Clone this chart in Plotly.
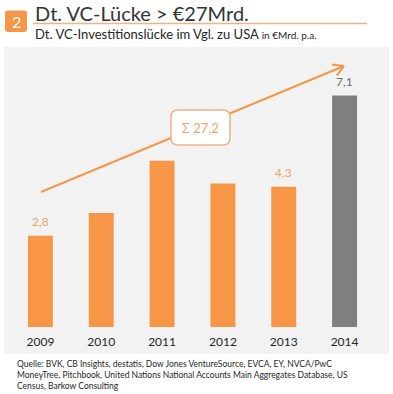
import math
import plotly.graph_objects as go

years = ["2009", "2010", "2011", "2012", "2013", "2014"]
values = [2.8, 3.5, 5.1, 4.4, 4.3, 7.1]
bar_colors = ["#F79646", "#F79646", "#F79646", "#F79646", "#F79646", "#7F7F7F"]
labels = ["2,8", "", "", "", "4,3", "7,1"]
label_colors = ["#F4A468", "", "", "", "#F4A468", "#6E6E6E"]
sum_text = "Σ 27,2"

W, H = 393, 394
ML, MR, MT, MB = 10, 18, 50, 67
YMAX = 8.5
FONT = "Lato"
ORANGE = "#F79646"

pw = W - ML - MR
ph = H - MT - MB
def px_to_x(px):
    return (px - ML) / pw * 6 - 0.5
def px_to_y(py):
    return (H - MB - py) / ph * YMAX
def px_to_paper(px, py):
    return (px - ML) / pw, (H - MB - py) / ph

def rounded_path(conv, a0, b0, a1, b1, r):
    def P(a, b):
        u, v = conv(a, b)
        return f"{u:.5f},{v:.5f}"
    return (f"M {P(a0+r, b0)} L {P(a1-r, b0)} Q {P(a1, b0)} {P(a1, b0+r)} "
            f"L {P(a1, b1-r)} Q {P(a1, b1)} {P(a1-r, b1)} L {P(a0+r, b1)} "
            f"Q {P(a0, b1)} {P(a0, b1-r)} L {P(a0, b0+r)} Q {P(a0, b0)} {P(a0+r, b0)} Z")

fig = go.Figure()
fig.add_trace(go.Bar(x=list(range(len(years))), y=values,
                     marker=dict(color=bar_colors, line=dict(width=0)),
                     width=0.41, hoverinfo="skip"))

shapes = []
x0, y0 = px_to_paper(4, 354)
x1, y1 = px_to_paper(389, 47)
shapes.append(dict(type="rect", xref="paper", yref="paper", x0=x0, y0=y0, x1=x1, y1=y1,
                   fillcolor="#F2F2F2", line=dict(width=0), layer="below"))
ux0, uy = px_to_paper(33, 23.5)
ux1, _ = px_to_paper(367, 23.5)
shapes.append(dict(type="line", xref="paper", yref="paper", x0=ux0, y0=uy, x1=ux1, y1=uy,
                   line=dict(color="#F4B183", width=1.5)))
shapes.append(dict(type="path", xref="paper", yref="paper",
                   path=rounded_path(px_to_paper, 5, 10.5, 27, 32, 3),
                   fillcolor=ORANGE, line=dict(width=0)))

sx, sy, ex, ey = 41, 192, 344, 66
shapes.append(dict(type="line", xref="x", yref="y", x0=px_to_x(sx), y0=px_to_y(sy),
                   x1=px_to_x(ex), y1=px_to_y(ey), line=dict(color=ORANGE, width=2)))
ang = math.atan2(ey - sy, ex - sx)
for d in (math.radians(150), math.radians(-150)):
    hx = ex + 12 * math.cos(ang + d)
    hy = ey + 12 * math.sin(ang + d)
    shapes.append(dict(type="line", xref="x", yref="y", x0=px_to_x(ex), y0=px_to_y(ey),
                       x1=px_to_x(hx), y1=px_to_y(hy), line=dict(color=ORANGE, width=2)))

rx0, ry0, rx1, ry1 = 171, 110, 230, 145
shapes.append(dict(type="path", xref="x", yref="y",
                   path=rounded_path(lambda a, b: (px_to_x(a), px_to_y(b)), rx0, ry0, rx1, ry1, 7),
                   fillcolor="white", line=dict(color="#F4B183", width=1.5)))

annotations = []
for i, (v, t, c) in enumerate(zip(values, labels, label_colors)):
    if t:
        annotations.append(dict(x=i, y=v, xref="x", yref="y", text=t, showarrow=False,
                                yanchor="bottom", yshift=5,
                                font=dict(family=FONT, size=12, color=c)))
annotations.append(dict(x=px_to_x((rx0 + rx1) / 2), y=px_to_y((ry0 + ry1) / 2), text=sum_text,
                        showarrow=False, font=dict(family=FONT, size=13, color="#F4A468")))
bcx, bcy = px_to_paper(16, 21.5)
annotations.append(dict(xref="paper", yref="paper", x=bcx, y=bcy, text="2", showarrow=False,
                        xanchor="center", yanchor="middle",
                        font=dict(family=FONT, size=16, color="white")))
tx, ty = px_to_paper(33, 13)
annotations.append(dict(xref="paper", yref="paper", x=tx, y=ty, xanchor="left", yanchor="middle",
                        text="Dt. VC-Lücke > €27Mrd.", showarrow=False,
                        font=dict(family=FONT, size=20, color="#333333")))
sx2, sy2 = px_to_paper(33, 33.5)
annotations.append(dict(xref="paper", yref="paper", x=sx2, y=sy2, xanchor="left", yanchor="middle",
                        text="Dt. VC-Investitionslücke im Vgl. zu USA <span style='font-size:10px'>in €Mrd. p.a.</span>",
                        showarrow=False, font=dict(family=FONT, size=13, color="#262626")))
qx, qy = px_to_paper(15, 357)
annotations.append(dict(xref="paper", yref="paper", x=qx, y=qy, xanchor="left", yanchor="top", align="left",
                        text=("Quelle: BVK, CB Insights, destatis, Dow Jones VentureSource, EVCA, EY, NVCA/PwC<br>"
                              "MoneyTree, Pitchbook, United Nations National Accounts Main Aggregates Database, US<br>"
                              "Census, Barkow Consulting"),
                        showarrow=False, font=dict(family=FONT, size=8.5, color="#262626")))

fig.update_layout(
    width=W, height=H, margin=dict(l=ML, r=MR, t=MT, b=MB),
    paper_bgcolor="white", plot_bgcolor="rgba(0,0,0,0)",
    showlegend=False, shapes=shapes, annotations=annotations,
    xaxis=dict(range=[-0.5, 5.5], tickmode="array", tickvals=list(range(len(years))), ticktext=years,
               showgrid=False, zeroline=False, showline=False, ticklabelstandoff=6,
               ticks="", tickfont=dict(family=FONT, size=12, color="#262626")),
    yaxis=dict(range=[0, YMAX], visible=False, showgrid=False, zeroline=False),
)
fig.write_html("out.html", config={"displayModeBar": False},
               post_script="document.body.style.margin='0';")
